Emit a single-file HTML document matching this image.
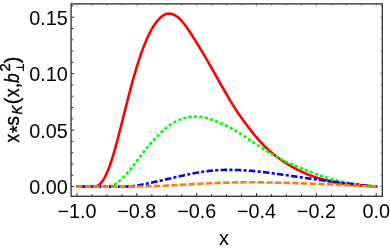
<!DOCTYPE html>
<html><head><meta charset="utf-8"><title>plot</title>
<style>
html,body{margin:0;padding:0;background:#fff;}
body{width:390px;height:250px;overflow:hidden;font-family:"Liberation Sans",sans-serif;}
svg{display:block;will-change:transform;}
text{font-family:"Liberation Sans",sans-serif;fill:#000;}
</style></head><body>
<svg width="390" height="250" viewBox="0 0 390 250">
<rect x="0" y="0" width="390" height="250" fill="#fff"/>
<g fill="none" stroke-linejoin="round">
<path d="M76.2,186.60 L77.2,186.60 L78.2,186.60 L79.2,186.60 L80.2,186.60 L81.2,186.60 L82.2,186.60 L83.2,186.60 L84.2,186.60 L85.2,186.60 L86.2,186.60 L87.2,186.60 L88.2,186.60 L89.2,186.60 L90.2,186.60 L91.2,186.60 L92.2,186.60 L93.2,186.60 L94.2,186.60 L95.2,186.60 L96.2,186.39 L97.2,185.98 L98.2,185.41 L99.2,184.67 L100.2,183.76 L101.2,182.67 L102.2,181.40 L103.2,179.95 L104.2,178.30 L105.2,176.47 L106.2,174.45 L107.2,172.24 L108.2,169.85 L109.2,167.27 L110.2,164.51 L111.2,161.58 L112.2,158.49 L113.2,155.24 L114.2,151.84 L115.2,148.32 L116.2,144.69 L117.2,140.97 L118.2,137.17 L119.2,133.32 L120.2,129.42 L121.2,125.48 L122.2,121.52 L123.2,117.54 L124.2,113.56 L125.2,109.58 L126.2,105.61 L127.2,101.68 L128.2,97.78 L129.2,93.93 L130.2,90.14 L131.2,86.42 L132.2,82.77 L133.2,79.20 L134.2,75.70 L135.2,72.27 L136.2,68.93 L137.2,65.67 L138.2,62.49 L139.2,59.41 L140.2,56.43 L141.2,53.54 L142.2,50.76 L143.2,48.07 L144.2,45.48 L145.2,42.99 L146.2,40.61 L147.2,38.33 L148.2,36.15 L149.2,34.07 L150.2,32.10 L151.2,30.22 L152.2,28.45 L153.2,26.77 L154.2,25.19 L155.2,23.71 L156.2,22.33 L157.2,21.05 L158.2,19.87 L159.2,18.78 L160.2,17.80 L161.2,16.92 L162.2,16.15 L163.2,15.47 L164.2,14.90 L165.2,14.43 L166.2,14.08 L167.2,13.82 L168.2,13.68 L169.2,13.63 L170.2,13.69 L171.2,13.85 L172.2,14.11 L173.2,14.46 L174.2,14.91 L175.2,15.45 L176.2,16.08 L177.2,16.79 L178.2,17.59 L179.2,18.47 L180.2,19.43 L181.2,20.46 L182.2,21.56 L183.2,22.73 L184.2,23.96 L185.2,25.25 L186.2,26.60 L187.2,27.99 L188.2,29.43 L189.2,30.90 L190.2,32.41 L191.2,33.95 L192.2,35.51 L193.2,37.09 L194.2,38.70 L195.2,40.32 L196.2,41.95 L197.2,43.59 L198.2,45.24 L199.2,46.89 L200.2,48.55 L201.2,50.21 L202.2,51.88 L203.2,53.56 L204.2,55.26 L205.2,56.96 L206.2,58.67 L207.2,60.40 L208.2,62.14 L209.2,63.89 L210.2,65.65 L211.2,67.42 L212.2,69.18 L213.2,70.95 L214.2,72.72 L215.2,74.48 L216.2,76.24 L217.2,78.00 L218.2,79.76 L219.2,81.51 L220.2,83.27 L221.2,85.02 L222.2,86.77 L223.2,88.51 L224.2,90.26 L225.2,92.00 L226.2,93.73 L227.2,95.46 L228.2,97.18 L229.2,98.88 L230.2,100.57 L231.2,102.24 L232.2,103.88 L233.2,105.51 L234.2,107.10 L235.2,108.67 L236.2,110.21 L237.2,111.71 L238.2,113.18 L239.2,114.63 L240.2,116.06 L241.2,117.46 L242.2,118.85 L243.2,120.22 L244.2,121.58 L245.2,122.93 L246.2,124.27 L247.2,125.59 L248.2,126.91 L249.2,128.22 L250.2,129.52 L251.2,130.81 L252.2,132.08 L253.2,133.34 L254.2,134.59 L255.2,135.81 L256.2,137.01 L257.2,138.20 L258.2,139.36 L259.2,140.49 L260.2,141.61 L261.2,142.70 L262.2,143.76 L263.2,144.80 L264.2,145.82 L265.2,146.80 L266.2,147.77 L267.2,148.71 L268.2,149.62 L269.2,150.52 L270.2,151.40 L271.2,152.26 L272.2,153.10 L273.2,153.93 L274.2,154.74 L275.2,155.53 L276.2,156.32 L277.2,157.08 L278.2,157.83 L279.2,158.57 L280.2,159.29 L281.2,160.00 L282.2,160.69 L283.2,161.37 L284.2,162.04 L285.2,162.69 L286.2,163.32 L287.2,163.95 L288.2,164.56 L289.2,165.15 L290.2,165.74 L291.2,166.31 L292.2,166.88 L293.2,167.43 L294.2,167.97 L295.2,168.51 L296.2,169.03 L297.2,169.55 L298.2,170.05 L299.2,170.55 L300.2,171.03 L301.2,171.51 L302.2,171.97 L303.2,172.43 L304.2,172.88 L305.2,173.32 L306.2,173.75 L307.2,174.17 L308.2,174.58 L309.2,174.98 L310.2,175.37 L311.2,175.75 L312.2,176.12 L313.2,176.48 L314.2,176.83 L315.2,177.17 L316.2,177.50 L317.2,177.83 L318.2,178.14 L319.2,178.44 L320.2,178.74 L321.2,179.02 L322.2,179.30 L323.2,179.57 L324.2,179.83 L325.2,180.08 L326.2,180.33 L327.2,180.57 L328.2,180.80 L329.2,181.02 L330.2,181.24 L331.2,181.45 L332.2,181.66 L333.2,181.85 L334.2,182.05 L335.2,182.23 L336.2,182.41 L337.2,182.59 L338.2,182.76 L339.2,182.92 L340.2,183.08 L341.2,183.23 L342.2,183.38 L343.2,183.52 L344.2,183.66 L345.2,183.80 L346.2,183.93 L347.2,184.06 L348.2,184.18 L349.2,184.30 L350.2,184.41 L351.2,184.52 L352.2,184.63 L353.2,184.74 L354.2,184.84 L355.2,184.94 L356.2,185.04 L357.2,185.13 L358.2,185.22 L359.2,185.31 L360.2,185.40 L361.2,185.49 L362.2,185.57 L363.2,185.65 L364.2,185.73 L365.2,185.81 L366.2,185.89 L367.2,185.96 L368.2,186.03 L369.2,186.11 L370.2,186.18 L371.2,186.25 L372.2,186.32 L373.2,186.39 L374.2,186.46 L375.2,186.53 L376.2,186.60 L377.3,186.60" stroke="#ff0000" stroke-width="2.6"/>
<path d="M76.2,186.60 L77.2,186.60 L78.2,186.60 L79.2,186.60 L80.2,186.60 L81.2,186.60 L82.2,186.60 L83.2,186.60 L84.2,186.60 L85.2,186.60 L86.2,186.60 L87.2,186.60 L88.2,186.60 L89.2,186.60 L90.2,186.60 L91.2,186.60 L92.2,186.60 L93.2,186.60 L94.2,186.60 L95.2,186.60 L96.2,186.60 L97.2,186.60 L98.2,186.60 L99.2,186.60 L100.2,186.60 L101.2,186.60 L102.2,186.60 L103.2,186.60 L104.2,186.60 L105.2,186.60 L106.2,186.60 L107.2,186.60 L108.2,186.60 L109.2,186.52 L110.2,186.32 L111.2,186.02 L112.2,185.64 L113.2,185.18 L114.2,184.65 L115.2,184.05 L116.2,183.39 L117.2,182.68 L118.2,181.92 L119.2,181.11 L120.2,180.26 L121.2,179.36 L122.2,178.42 L123.2,177.44 L124.2,176.42 L125.2,175.37 L126.2,174.28 L127.2,173.17 L128.2,172.02 L129.2,170.84 L130.2,169.63 L131.2,168.40 L132.2,167.14 L133.2,165.86 L134.2,164.56 L135.2,163.25 L136.2,161.92 L137.2,160.59 L138.2,159.24 L139.2,157.90 L140.2,156.56 L141.2,155.22 L142.2,153.90 L143.2,152.59 L144.2,151.29 L145.2,150.01 L146.2,148.76 L147.2,147.52 L148.2,146.31 L149.2,145.12 L150.2,143.96 L151.2,142.81 L152.2,141.69 L153.2,140.59 L154.2,139.51 L155.2,138.44 L156.2,137.40 L157.2,136.37 L158.2,135.36 L159.2,134.36 L160.2,133.39 L161.2,132.43 L162.2,131.50 L163.2,130.59 L164.2,129.70 L165.2,128.84 L166.2,128.00 L167.2,127.20 L168.2,126.42 L169.2,125.67 L170.2,124.96 L171.2,124.28 L172.2,123.63 L173.2,123.02 L174.2,122.43 L175.2,121.88 L176.2,121.36 L177.2,120.87 L178.2,120.41 L179.2,119.98 L180.2,119.57 L181.2,119.20 L182.2,118.85 L183.2,118.53 L184.2,118.23 L185.2,117.97 L186.2,117.72 L187.2,117.51 L188.2,117.32 L189.2,117.15 L190.2,117.01 L191.2,116.89 L192.2,116.80 L193.2,116.74 L194.2,116.69 L195.2,116.67 L196.2,116.68 L197.2,116.71 L198.2,116.77 L199.2,116.85 L200.2,116.95 L201.2,117.07 L202.2,117.22 L203.2,117.39 L204.2,117.58 L205.2,117.79 L206.2,118.03 L207.2,118.27 L208.2,118.54 L209.2,118.83 L210.2,119.13 L211.2,119.45 L212.2,119.78 L213.2,120.13 L214.2,120.49 L215.2,120.86 L216.2,121.25 L217.2,121.65 L218.2,122.06 L219.2,122.48 L220.2,122.91 L221.2,123.35 L222.2,123.80 L223.2,124.26 L224.2,124.73 L225.2,125.21 L226.2,125.70 L227.2,126.20 L228.2,126.71 L229.2,127.22 L230.2,127.75 L231.2,128.29 L232.2,128.84 L233.2,129.40 L234.2,129.97 L235.2,130.55 L236.2,131.14 L237.2,131.75 L238.2,132.36 L239.2,132.98 L240.2,133.62 L241.2,134.26 L242.2,134.92 L243.2,135.58 L244.2,136.25 L245.2,136.92 L246.2,137.61 L247.2,138.29 L248.2,138.98 L249.2,139.67 L250.2,140.35 L251.2,141.04 L252.2,141.73 L253.2,142.41 L254.2,143.08 L255.2,143.75 L256.2,144.42 L257.2,145.07 L258.2,145.72 L259.2,146.36 L260.2,146.99 L261.2,147.62 L262.2,148.24 L263.2,148.86 L264.2,149.48 L265.2,150.09 L266.2,150.71 L267.2,151.32 L268.2,151.92 L269.2,152.53 L270.2,153.12 L271.2,153.71 L272.2,154.30 L273.2,154.88 L274.2,155.44 L275.2,156.01 L276.2,156.56 L277.2,157.11 L278.2,157.65 L279.2,158.18 L280.2,158.70 L281.2,159.22 L282.2,159.73 L283.2,160.24 L284.2,160.74 L285.2,161.23 L286.2,161.71 L287.2,162.19 L288.2,162.66 L289.2,163.13 L290.2,163.59 L291.2,164.05 L292.2,164.50 L293.2,164.95 L294.2,165.39 L295.2,165.83 L296.2,166.27 L297.2,166.70 L298.2,167.12 L299.2,167.54 L300.2,167.96 L301.2,168.37 L302.2,168.78 L303.2,169.18 L304.2,169.58 L305.2,169.98 L306.2,170.37 L307.2,170.76 L308.2,171.14 L309.2,171.52 L310.2,171.90 L311.2,172.27 L312.2,172.64 L313.2,173.01 L314.2,173.37 L315.2,173.74 L316.2,174.10 L317.2,174.45 L318.2,174.80 L319.2,175.15 L320.2,175.50 L321.2,175.84 L322.2,176.17 L323.2,176.50 L324.2,176.83 L325.2,177.15 L326.2,177.47 L327.2,177.78 L328.2,178.08 L329.2,178.38 L330.2,178.67 L331.2,178.96 L332.2,179.24 L333.2,179.51 L334.2,179.77 L335.2,180.03 L336.2,180.29 L337.2,180.54 L338.2,180.78 L339.2,181.02 L340.2,181.25 L341.2,181.47 L342.2,181.69 L343.2,181.90 L344.2,182.11 L345.2,182.31 L346.2,182.51 L347.2,182.70 L348.2,182.89 L349.2,183.07 L350.2,183.24 L351.2,183.42 L352.2,183.58 L353.2,183.74 L354.2,183.90 L355.2,184.05 L356.2,184.20 L357.2,184.34 L358.2,184.49 L359.2,184.62 L360.2,184.76 L361.2,184.89 L362.2,185.01 L363.2,185.14 L364.2,185.26 L365.2,185.38 L366.2,185.50 L367.2,185.62 L368.2,185.73 L369.2,185.84 L370.2,185.95 L371.2,186.06 L372.2,186.17 L373.2,186.28 L374.2,186.39 L375.2,186.49 L376.2,186.60 L377.3,186.60" stroke="#00ff00" stroke-width="2.6" stroke-dasharray="3.3 2.1" stroke-dashoffset="5.1"/>
<path d="M76.2,186.60 L77.2,186.60 L78.2,186.60 L79.2,186.60 L80.2,186.60 L81.2,186.60 L82.2,186.60 L83.2,186.60 L84.2,186.60 L85.2,186.60 L86.2,186.60 L87.2,186.60 L88.2,186.60 L89.2,186.60 L90.2,186.60 L91.2,186.60 L92.2,186.60 L93.2,186.60 L94.2,186.60 L95.2,186.60 L96.2,186.60 L97.2,186.60 L98.2,186.60 L99.2,186.60 L100.2,186.60 L101.2,186.60 L102.2,186.60 L103.2,186.60 L104.2,186.60 L105.2,186.60 L106.2,186.60 L107.2,186.60 L108.2,186.60 L109.2,186.60 L110.2,186.60 L111.2,186.60 L112.2,186.60 L113.2,186.60 L114.2,186.60 L115.2,186.60 L116.2,186.60 L117.2,186.60 L118.2,186.60 L119.2,186.60 L120.2,186.60 L121.2,186.60 L122.2,186.60 L123.2,186.60 L124.2,186.60 L125.2,186.60 L126.2,186.60 L127.2,186.58 L128.2,186.54 L129.2,186.47 L130.2,186.40 L131.2,186.30 L132.2,186.20 L133.2,186.08 L134.2,185.95 L135.2,185.81 L136.2,185.66 L137.2,185.50 L138.2,185.34 L139.2,185.16 L140.2,184.99 L141.2,184.80 L142.2,184.61 L143.2,184.42 L144.2,184.22 L145.2,184.01 L146.2,183.81 L147.2,183.60 L148.2,183.39 L149.2,183.17 L150.2,182.96 L151.2,182.74 L152.2,182.52 L153.2,182.29 L154.2,182.07 L155.2,181.85 L156.2,181.62 L157.2,181.40 L158.2,181.17 L159.2,180.94 L160.2,180.72 L161.2,180.49 L162.2,180.26 L163.2,180.03 L164.2,179.81 L165.2,179.58 L166.2,179.35 L167.2,179.12 L168.2,178.89 L169.2,178.66 L170.2,178.43 L171.2,178.21 L172.2,177.98 L173.2,177.75 L174.2,177.52 L175.2,177.29 L176.2,177.06 L177.2,176.83 L178.2,176.60 L179.2,176.38 L180.2,176.15 L181.2,175.93 L182.2,175.70 L183.2,175.48 L184.2,175.26 L185.2,175.04 L186.2,174.83 L187.2,174.61 L188.2,174.40 L189.2,174.19 L190.2,173.99 L191.2,173.79 L192.2,173.59 L193.2,173.39 L194.2,173.20 L195.2,173.02 L196.2,172.83 L197.2,172.66 L198.2,172.48 L199.2,172.31 L200.2,172.15 L201.2,171.99 L202.2,171.83 L203.2,171.68 L204.2,171.54 L205.2,171.40 L206.2,171.26 L207.2,171.14 L208.2,171.01 L209.2,170.90 L210.2,170.79 L211.2,170.69 L212.2,170.59 L213.2,170.50 L214.2,170.42 L215.2,170.34 L216.2,170.28 L217.2,170.21 L218.2,170.15 L219.2,170.10 L220.2,170.06 L221.2,170.01 L222.2,169.98 L223.2,169.95 L224.2,169.92 L225.2,169.90 L226.2,169.88 L227.2,169.87 L228.2,169.87 L229.2,169.86 L230.2,169.87 L231.2,169.87 L232.2,169.88 L233.2,169.90 L234.2,169.92 L235.2,169.94 L236.2,169.96 L237.2,169.99 L238.2,170.03 L239.2,170.07 L240.2,170.11 L241.2,170.16 L242.2,170.21 L243.2,170.26 L244.2,170.32 L245.2,170.38 L246.2,170.44 L247.2,170.51 L248.2,170.59 L249.2,170.66 L250.2,170.74 L251.2,170.82 L252.2,170.91 L253.2,171.00 L254.2,171.10 L255.2,171.19 L256.2,171.29 L257.2,171.40 L258.2,171.50 L259.2,171.61 L260.2,171.72 L261.2,171.83 L262.2,171.95 L263.2,172.07 L264.2,172.19 L265.2,172.31 L266.2,172.43 L267.2,172.56 L268.2,172.69 L269.2,172.82 L270.2,172.95 L271.2,173.08 L272.2,173.22 L273.2,173.35 L274.2,173.49 L275.2,173.62 L276.2,173.76 L277.2,173.90 L278.2,174.04 L279.2,174.18 L280.2,174.32 L281.2,174.47 L282.2,174.61 L283.2,174.75 L284.2,174.90 L285.2,175.04 L286.2,175.18 L287.2,175.33 L288.2,175.47 L289.2,175.62 L290.2,175.76 L291.2,175.91 L292.2,176.05 L293.2,176.20 L294.2,176.34 L295.2,176.49 L296.2,176.63 L297.2,176.77 L298.2,176.92 L299.2,177.06 L300.2,177.20 L301.2,177.35 L302.2,177.49 L303.2,177.63 L304.2,177.77 L305.2,177.92 L306.2,178.06 L307.2,178.20 L308.2,178.34 L309.2,178.48 L310.2,178.62 L311.2,178.76 L312.2,178.90 L313.2,179.04 L314.2,179.18 L315.2,179.32 L316.2,179.46 L317.2,179.60 L318.2,179.74 L319.2,179.88 L320.2,180.01 L321.2,180.15 L322.2,180.29 L323.2,180.42 L324.2,180.56 L325.2,180.69 L326.2,180.82 L327.2,180.96 L328.2,181.09 L329.2,181.22 L330.2,181.35 L331.2,181.48 L332.2,181.61 L333.2,181.74 L334.2,181.87 L335.2,181.99 L336.2,182.12 L337.2,182.24 L338.2,182.37 L339.2,182.49 L340.2,182.62 L341.2,182.74 L342.2,182.86 L343.2,182.98 L344.2,183.10 L345.2,183.22 L346.2,183.34 L347.2,183.45 L348.2,183.57 L349.2,183.68 L350.2,183.80 L351.2,183.91 L352.2,184.03 L353.2,184.14 L354.2,184.25 L355.2,184.36 L356.2,184.47 L357.2,184.58 L358.2,184.69 L359.2,184.80 L360.2,184.91 L361.2,185.02 L362.2,185.13 L363.2,185.23 L364.2,185.34 L365.2,185.45 L366.2,185.55 L367.2,185.66 L368.2,185.76 L369.2,185.87 L370.2,185.97 L371.2,186.08 L372.2,186.18 L373.2,186.29 L374.2,186.39 L375.2,186.50 L376.2,186.60 L377.3,186.60" stroke="#0000ff" stroke-width="2.6" stroke-dasharray="6.5 2.3 3.05 2.305" stroke-dashoffset="9.69"/>
<path d="M76.2,186.60 L77.2,186.60 L78.2,186.60 L79.2,186.60 L80.2,186.60 L81.2,186.60 L82.2,186.60 L83.2,186.60 L84.2,186.60 L85.2,186.60 L86.2,186.60 L87.2,186.60 L88.2,186.60 L89.2,186.60 L90.2,186.60 L91.2,186.60 L92.2,186.60 L93.2,186.60 L94.2,186.60 L95.2,186.60 L96.2,186.60 L97.2,186.60 L98.2,186.60 L99.2,186.60 L100.2,186.60 L101.2,186.60 L102.2,186.60 L103.2,186.60 L104.2,186.60 L105.2,186.60 L106.2,186.60 L107.2,186.60 L108.2,186.60 L109.2,186.60 L110.2,186.60 L111.2,186.60 L112.2,186.60 L113.2,186.60 L114.2,186.60 L115.2,186.60 L116.2,186.60 L117.2,186.60 L118.2,186.60 L119.2,186.60 L120.2,186.60 L121.2,186.60 L122.2,186.60 L123.2,186.60 L124.2,186.60 L125.2,186.60 L126.2,186.60 L127.2,186.60 L128.2,186.60 L129.2,186.60 L130.2,186.60 L131.2,186.60 L132.2,186.60 L133.2,186.60 L134.2,186.60 L135.2,186.59 L136.2,186.58 L137.2,186.57 L138.2,186.56 L139.2,186.55 L140.2,186.53 L141.2,186.51 L142.2,186.49 L143.2,186.47 L144.2,186.45 L145.2,186.42 L146.2,186.39 L147.2,186.37 L148.2,186.34 L149.2,186.31 L150.2,186.28 L151.2,186.25 L152.2,186.21 L153.2,186.18 L154.2,186.15 L155.2,186.11 L156.2,186.07 L157.2,186.04 L158.2,186.00 L159.2,185.96 L160.2,185.92 L161.2,185.88 L162.2,185.84 L163.2,185.79 L164.2,185.75 L165.2,185.70 L166.2,185.66 L167.2,185.61 L168.2,185.56 L169.2,185.52 L170.2,185.47 L171.2,185.41 L172.2,185.36 L173.2,185.31 L174.2,185.26 L175.2,185.20 L176.2,185.14 L177.2,185.09 L178.2,185.03 L179.2,184.97 L180.2,184.92 L181.2,184.86 L182.2,184.80 L183.2,184.74 L184.2,184.68 L185.2,184.62 L186.2,184.56 L187.2,184.50 L188.2,184.44 L189.2,184.38 L190.2,184.33 L191.2,184.27 L192.2,184.21 L193.2,184.15 L194.2,184.09 L195.2,184.03 L196.2,183.98 L197.2,183.92 L198.2,183.86 L199.2,183.81 L200.2,183.75 L201.2,183.70 L202.2,183.65 L203.2,183.59 L204.2,183.54 L205.2,183.49 L206.2,183.44 L207.2,183.39 L208.2,183.34 L209.2,183.29 L210.2,183.25 L211.2,183.20 L212.2,183.15 L213.2,183.11 L214.2,183.07 L215.2,183.03 L216.2,182.98 L217.2,182.95 L218.2,182.91 L219.2,182.87 L220.2,182.83 L221.2,182.80 L222.2,182.76 L223.2,182.73 L224.2,182.70 L225.2,182.67 L226.2,182.64 L227.2,182.61 L228.2,182.59 L229.2,182.56 L230.2,182.54 L231.2,182.51 L232.2,182.49 L233.2,182.47 L234.2,182.45 L235.2,182.43 L236.2,182.42 L237.2,182.40 L238.2,182.39 L239.2,182.37 L240.2,182.36 L241.2,182.35 L242.2,182.34 L243.2,182.33 L244.2,182.32 L245.2,182.32 L246.2,182.31 L247.2,182.31 L248.2,182.31 L249.2,182.30 L250.2,182.30 L251.2,182.31 L252.2,182.31 L253.2,182.31 L254.2,182.31 L255.2,182.32 L256.2,182.32 L257.2,182.33 L258.2,182.34 L259.2,182.35 L260.2,182.36 L261.2,182.37 L262.2,182.38 L263.2,182.39 L264.2,182.41 L265.2,182.42 L266.2,182.43 L267.2,182.45 L268.2,182.47 L269.2,182.48 L270.2,182.50 L271.2,182.52 L272.2,182.54 L273.2,182.56 L274.2,182.58 L275.2,182.60 L276.2,182.62 L277.2,182.64 L278.2,182.66 L279.2,182.69 L280.2,182.71 L281.2,182.73 L282.2,182.76 L283.2,182.79 L284.2,182.81 L285.2,182.84 L286.2,182.87 L287.2,182.89 L288.2,182.92 L289.2,182.95 L290.2,182.98 L291.2,183.01 L292.2,183.04 L293.2,183.07 L294.2,183.10 L295.2,183.13 L296.2,183.16 L297.2,183.20 L298.2,183.23 L299.2,183.26 L300.2,183.29 L301.2,183.33 L302.2,183.36 L303.2,183.40 L304.2,183.43 L305.2,183.46 L306.2,183.50 L307.2,183.53 L308.2,183.57 L309.2,183.60 L310.2,183.64 L311.2,183.68 L312.2,183.71 L313.2,183.75 L314.2,183.78 L315.2,183.82 L316.2,183.86 L317.2,183.89 L318.2,183.93 L319.2,183.97 L320.2,184.01 L321.2,184.04 L322.2,184.08 L323.2,184.12 L324.2,184.16 L325.2,184.20 L326.2,184.24 L327.2,184.28 L328.2,184.32 L329.2,184.36 L330.2,184.41 L331.2,184.45 L332.2,184.49 L333.2,184.54 L334.2,184.58 L335.2,184.63 L336.2,184.67 L337.2,184.72 L338.2,184.77 L339.2,184.82 L340.2,184.86 L341.2,184.91 L342.2,184.96 L343.2,185.01 L344.2,185.06 L345.2,185.10 L346.2,185.15 L347.2,185.20 L348.2,185.25 L349.2,185.30 L350.2,185.35 L351.2,185.40 L352.2,185.45 L353.2,185.50 L354.2,185.54 L355.2,185.59 L356.2,185.64 L357.2,185.69 L358.2,185.74 L359.2,185.79 L360.2,185.83 L361.2,185.88 L362.2,185.93 L363.2,185.98 L364.2,186.03 L365.2,186.07 L366.2,186.12 L367.2,186.17 L368.2,186.22 L369.2,186.27 L370.2,186.31 L371.2,186.36 L372.2,186.41 L373.2,186.46 L374.2,186.50 L375.2,186.55 L376.2,186.60 L377.3,186.60" stroke="#ff8000" stroke-width="2.6" stroke-dasharray="6.3 2.35"/>
</g>
<g stroke="#2a2a2a" stroke-width="1.0" fill="none">
<line x1="77.00" y1="196.3" x2="77.00" y2="193.10000000000002"/>
<line x1="91.96" y1="196.3" x2="91.96" y2="194.10000000000002"/>
<line x1="106.92" y1="196.3" x2="106.92" y2="194.10000000000002"/>
<line x1="121.88" y1="196.3" x2="121.88" y2="194.10000000000002"/>
<line x1="136.84" y1="196.3" x2="136.84" y2="193.10000000000002"/>
<line x1="151.80" y1="196.3" x2="151.80" y2="194.10000000000002"/>
<line x1="166.76" y1="196.3" x2="166.76" y2="194.10000000000002"/>
<line x1="181.72" y1="196.3" x2="181.72" y2="194.10000000000002"/>
<line x1="196.68" y1="196.3" x2="196.68" y2="193.10000000000002"/>
<line x1="211.64" y1="196.3" x2="211.64" y2="194.10000000000002"/>
<line x1="226.60" y1="196.3" x2="226.60" y2="194.10000000000002"/>
<line x1="241.56" y1="196.3" x2="241.56" y2="194.10000000000002"/>
<line x1="256.52" y1="196.3" x2="256.52" y2="193.10000000000002"/>
<line x1="271.48" y1="196.3" x2="271.48" y2="194.10000000000002"/>
<line x1="286.44" y1="196.3" x2="286.44" y2="194.10000000000002"/>
<line x1="301.40" y1="196.3" x2="301.40" y2="194.10000000000002"/>
<line x1="316.36" y1="196.3" x2="316.36" y2="193.10000000000002"/>
<line x1="331.32" y1="196.3" x2="331.32" y2="194.10000000000002"/>
<line x1="346.28" y1="196.3" x2="346.28" y2="194.10000000000002"/>
<line x1="361.24" y1="196.3" x2="361.24" y2="194.10000000000002"/>
<line x1="376.20" y1="196.3" x2="376.20" y2="193.10000000000002"/>
<line x1="71.1" y1="186.60" x2="74.3" y2="186.60"/>
<line x1="71.1" y1="175.31" x2="73.3" y2="175.31"/>
<line x1="71.1" y1="164.01" x2="73.3" y2="164.01"/>
<line x1="71.1" y1="152.72" x2="73.3" y2="152.72"/>
<line x1="71.1" y1="141.43" x2="73.3" y2="141.43"/>
<line x1="71.1" y1="130.13" x2="74.3" y2="130.13"/>
<line x1="71.1" y1="118.84" x2="73.3" y2="118.84"/>
<line x1="71.1" y1="107.55" x2="73.3" y2="107.55"/>
<line x1="71.1" y1="96.26" x2="73.3" y2="96.26"/>
<line x1="71.1" y1="84.96" x2="73.3" y2="84.96"/>
<line x1="71.1" y1="73.67" x2="74.3" y2="73.67"/>
<line x1="71.1" y1="62.38" x2="73.3" y2="62.38"/>
<line x1="71.1" y1="51.08" x2="73.3" y2="51.08"/>
<line x1="71.1" y1="39.79" x2="73.3" y2="39.79"/>
<line x1="71.1" y1="28.50" x2="73.3" y2="28.50"/>
<line x1="71.1" y1="17.21" x2="74.3" y2="17.21"/>
<line x1="71.1" y1="5.91" x2="73.3" y2="5.91"/>
</g>
<g stroke="#777" stroke-width="0.6" fill="none">
<line x1="77.00" y1="3.9" x2="77.00" y2="6.699999999999999"/>
<line x1="91.96" y1="3.9" x2="91.96" y2="5.9"/>
<line x1="106.92" y1="3.9" x2="106.92" y2="5.9"/>
<line x1="121.88" y1="3.9" x2="121.88" y2="5.9"/>
<line x1="136.84" y1="3.9" x2="136.84" y2="6.699999999999999"/>
<line x1="151.80" y1="3.9" x2="151.80" y2="5.9"/>
<line x1="166.76" y1="3.9" x2="166.76" y2="5.9"/>
<line x1="181.72" y1="3.9" x2="181.72" y2="5.9"/>
<line x1="196.68" y1="3.9" x2="196.68" y2="6.699999999999999"/>
<line x1="211.64" y1="3.9" x2="211.64" y2="5.9"/>
<line x1="226.60" y1="3.9" x2="226.60" y2="5.9"/>
<line x1="241.56" y1="3.9" x2="241.56" y2="5.9"/>
<line x1="256.52" y1="3.9" x2="256.52" y2="6.699999999999999"/>
<line x1="271.48" y1="3.9" x2="271.48" y2="5.9"/>
<line x1="286.44" y1="3.9" x2="286.44" y2="5.9"/>
<line x1="301.40" y1="3.9" x2="301.40" y2="5.9"/>
<line x1="316.36" y1="3.9" x2="316.36" y2="6.699999999999999"/>
<line x1="331.32" y1="3.9" x2="331.32" y2="5.9"/>
<line x1="346.28" y1="3.9" x2="346.28" y2="5.9"/>
<line x1="361.24" y1="3.9" x2="361.24" y2="5.9"/>
<line x1="376.20" y1="3.9" x2="376.20" y2="6.699999999999999"/>
<line x1="382.3" y1="186.60" x2="379.5" y2="186.60"/>
<line x1="382.3" y1="175.31" x2="380.3" y2="175.31"/>
<line x1="382.3" y1="164.01" x2="380.3" y2="164.01"/>
<line x1="382.3" y1="152.72" x2="380.3" y2="152.72"/>
<line x1="382.3" y1="141.43" x2="380.3" y2="141.43"/>
<line x1="382.3" y1="130.13" x2="379.5" y2="130.13"/>
<line x1="382.3" y1="118.84" x2="380.3" y2="118.84"/>
<line x1="382.3" y1="107.55" x2="380.3" y2="107.55"/>
<line x1="382.3" y1="96.26" x2="380.3" y2="96.26"/>
<line x1="382.3" y1="84.96" x2="380.3" y2="84.96"/>
<line x1="382.3" y1="73.67" x2="379.5" y2="73.67"/>
<line x1="382.3" y1="62.38" x2="380.3" y2="62.38"/>
<line x1="382.3" y1="51.08" x2="380.3" y2="51.08"/>
<line x1="382.3" y1="39.79" x2="380.3" y2="39.79"/>
<line x1="382.3" y1="28.50" x2="380.3" y2="28.50"/>
<line x1="382.3" y1="17.21" x2="379.5" y2="17.21"/>
<line x1="382.3" y1="5.91" x2="380.3" y2="5.91"/>
</g>
<rect x="71.1" y="3.9" width="311.20000000000005" height="192.4" fill="none" stroke="#353535" stroke-width="1.35"/>
<g font-size="19.8">
<text x="77.0" y="218.3" text-anchor="middle">−1.0</text>
<text x="136.8" y="218.3" text-anchor="middle">−0.8</text>
<text x="196.7" y="218.3" text-anchor="middle">−0.6</text>
<text x="256.5" y="218.3" text-anchor="middle">−0.4</text>
<text x="316.4" y="218.3" text-anchor="middle">−0.2</text>
<text x="376.2" y="218.3" text-anchor="middle">0.0</text>
<text x="67.8" y="194.0" text-anchor="end">0.00</text>
<text x="67.8" y="137.5" text-anchor="end">0.05</text>
<text x="67.8" y="81.1" text-anchor="end">0.10</text>
<text x="67.8" y="24.6" text-anchor="end">0.15</text>
</g>
<text x="223.95" y="245.4" font-size="19.8" text-anchor="middle">x</text>
<g transform="translate(18.8,142.1) rotate(-90)" stroke="#000" stroke-width="0.4" stroke-linejoin="round"><text transform="translate(-0.36,0.00) scale(0.86,1)" font-size="19.8">x</text>
<text transform="translate(9.14,4.75) scale(1.0,1)" font-size="19.8">*</text>
<text transform="translate(16.63,0.00) scale(0.96,1)" font-size="19.8">s</text>
<text transform="translate(27.68,3.00) scale(0.93,1)" font-size="14.4" font-style="italic">K</text>
<text transform="translate(37.95,0.00) scale(1.0,1)" font-size="19.8">(</text>
<text transform="translate(45.09,0.00) scale(0.86,1)" font-size="19.8">x</text>
<text transform="translate(53.85,0.00) scale(1.0,1)" font-size="19.8">,</text>
<text transform="translate(59.15,0.00) scale(0.88,1)" font-size="19.8" font-style="italic">b</text>
<text transform="translate(70.61,-8.80) scale(1.05,1)" font-size="14.0">2</text>
<text transform="translate(78.86,0.00) scale(1.0,1)" font-size="19.8">)</text>
<path d="M74.7,-2.3 L74.7,4.6 M71.1,4.6 L78.2,4.6" stroke="#000" stroke-width="1.3" fill="none"/></g>
</svg>
</body></html>
